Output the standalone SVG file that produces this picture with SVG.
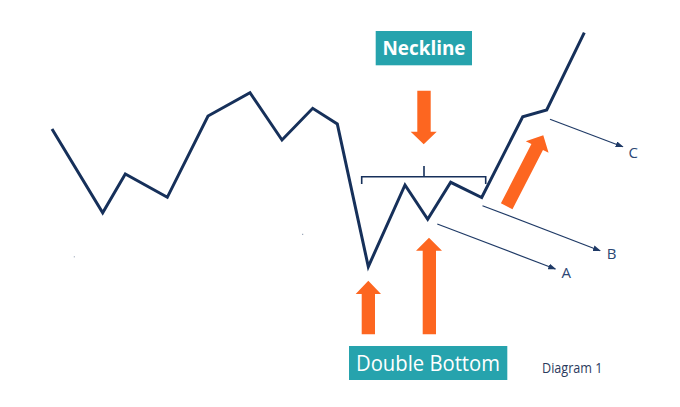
<svg xmlns="http://www.w3.org/2000/svg" width="680" height="407" viewBox="0 0 680 407">
<defs>
<marker id="ah" markerWidth="8" markerHeight="6" refX="7" refY="3" orient="auto" markerUnits="userSpaceOnUse">
<path d="M0,0 L8,3 L0,6 Z" fill="#1f3a66"/>
</marker>
<style>
.price{fill:none;stroke:#16305a;stroke-width:3;stroke-linejoin:miter;stroke-linecap:butt}
.thin{fill:none;stroke:#1f3a66;stroke-width:1.2}
.brk{fill:none;stroke:#16305a;stroke-width:1.6}
.orange{fill:#fd6620}
.box{fill:#26a3ad}
.lbl{font-family:"Open Sans","Liberation Sans",sans-serif;fill:#ffffff}
.abc{font-family:"Open Sans","Liberation Sans",sans-serif;font-size:15px;fill:#2c4774}
</style>
</defs>
<rect width="680" height="407" fill="#ffffff"/>
<g id="price-line">
<polyline class="price" points="52,129 102.7,212.7 125.3,174 167.3,197.3 208,116 250,92.7 282,140 312.7,108.3 337.3,124 368.3,266.7 405,185 427.7,219.3 450.7,182.3 481.7,197.5 522.7,116.7 546.7,110 584.3,32.7"/>
</g>
<g id="neckline-bracket">
<path class="brk" d="M361.7,184 V176.7 H485.7 V184 M424,166 V176.7"/>
</g>
<g id="connectors">
<line class="thin" x1="437.3" y1="224" x2="555.3" y2="269" marker-end="url(#ah)"/>
<line class="thin" x1="482.5" y1="205.7" x2="600" y2="250.7" marker-end="url(#ah)"/>
<line class="thin" x1="550" y1="119.3" x2="622.7" y2="146.7" marker-end="url(#ah)"/>
</g>
<g id="label-A"><text class="abc" x="561.5" y="278">A</text></g>
<g id="label-B"><text class="abc" x="606.8" y="259">B</text></g>
<g id="label-C"><text class="abc" x="628.5" y="157.5">C</text></g>
<g id="arrow-neckline">
<polygon class="orange" points="417.3,90.7 430.7,90.7 430.7,131.7 436.7,131.7 423.7,144.3 410.7,131.7 417.3,131.7"/>
</g>
<g id="arrow-bottom-1">
<polygon class="orange" points="361.7,334.3 375,334.3 375,294 381,294 368.3,280.7 355.7,294 361.7,294"/>
</g>
<g id="arrow-bottom-2">
<polygon class="orange" points="422.7,334.3 436,334.3 436,250.7 442,250.7 429,237.7 416,250.7 422.7,250.7"/>
</g>
<g id="arrow-breakout">
<polygon class="orange" transform="translate(506.7,206.3) rotate(27.2)" points="-6.5,0 6.5,0 6.5,-66.7 12.8,-66.7 0,-80 -12.8,-66.7 -6.5,-66.7"/>
</g>
<g id="neckline-label">
<rect class="box" x="375.7" y="31" width="96.3" height="34.3"/>
<text class="lbl" x="382.5" y="55" font-size="20" font-weight="bold" textLength="83" lengthAdjust="spacingAndGlyphs">Neckline</text>
</g>
<g id="double-bottom-label">
<rect class="box" x="349" y="346" width="158.3" height="34"/>
<text class="lbl" x="356" y="370.7" font-size="22" textLength="144" lengthAdjust="spacingAndGlyphs">Double Bottom</text>
</g>
<g id="caption">
<text x="542" y="372.5" font-family="'Open Sans','Liberation Sans',sans-serif" font-size="14" fill="#2c3b5e" textLength="60.5" lengthAdjust="spacingAndGlyphs">Diagram 1</text>
</g>
<g id="specks">
<rect x="73.8" y="256.2" width="1" height="1.2" fill="#9aa6b8"/>
<rect x="302.2" y="233.8" width="1" height="1" fill="#6a7a95"/>
</g>
</svg>
